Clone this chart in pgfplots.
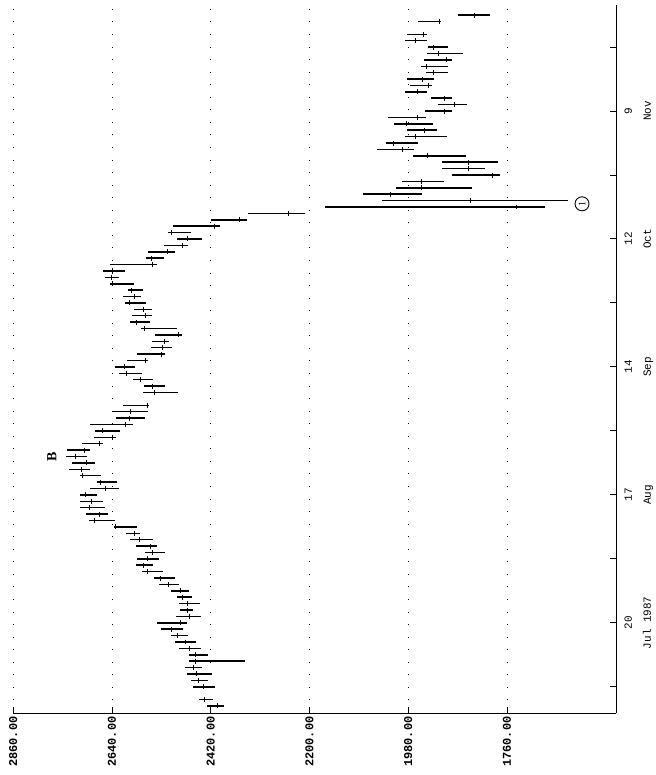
\documentclass[border=0pt]{standalone}
\usepackage{fontspec}
\setmainfont{Liberation Serif}
\setmonofont{Liberation Mono}
\usepackage{pgfplots}
\pgfplotsset{compat=1.18}
\usepackage{pgfplotstable}

\pgfplotstableread{
t h l c
-3 2428 2390 2406
-2 2446 2415 2433
0 2459 2410 2437
1 2464 2426 2448
2 2473 2417 2451
3 2477 2439 2459
4 2468 2344 2455
5 2468 2426 2455
6 2491 2442 2468
7 2500 2453 2477
8 2508 2471 2495
9 2531 2482 2508
10 2540 2473 2488
11 2497 2442 2468
12 2488 2459 2471
13 2491 2444 2471
14 2495 2462 2482
15 2508 2468 2488
16 2535 2491 2515
17 2546 2500 2533
18 2573 2526 2562
19 2586 2549 2571
20 2584 2535 2560
21 2566 2522 2549
22 2586 2540 2555
23 2600 2549 2578
24 2609 2578 2589
25 2636 2584 2632
26 2691 2633 2680
27 2698 2649 2669
28 2711 2656 2691
29 2711 2660 2685
30 2711 2673 2700
31 2689 2624 2654
32 2673 2629 2665
33 2711 2665 2706
34 2736 2689 2709
35 2729 2678 2697
36 2742 2696 2722
37 2740 2689 2701
38 2707 2660 2667
39 2680 2631 2639
40 2678 2622 2662
41 2689 2593 2610
42 2631 2566 2602
43 2638 2560 2599
44 2615 2557 2561
46 2571 2493 2545
47 2569 2522 2549
48 2593 2549 2576
49 2624 2573 2608
50 2633 2589 2613
51 2607 2560 2566
52 2584 2522 2530
53 2553 2506 2527
54 2551 2513 2524
55 2545 2485 2492
56 2575 2495 2568
57 2600 2555 2585
58 2595 2550 2566
59 2590 2550 2570
60 2610 2565 2601
61 2615 2575 2590
62 2605 2570 2596
63 2645 2590 2639
64 2655 2625 2641
65 2660 2610 2640
66 2645 2540 2549
67 2565 2525 2551
68 2560 2500 2516
69 2525 2470 2482
70 2495 2440 2471
71 2515 2465 2508
72 2505 2400 2412
73 2420 2340 2355
74 2337 2210 2246
75 2165 1675 1738
76 2038 1625 1841
77 2081 1949 2020
78 2007 1838 1951
79 1994 1900 1951
80 1882 1775 1793
81 1904 1809 1846
82 1904 1780 1846
83 1969 1851 1938
84 2049 1967 1993
85 2029 1958 2014
86 1987 1893 1963
87 1983 1916 1945
88 2012 1925 1985
89 2025 1940 1959
90 1942 1882 1900
91 1913 1849 1878
92 1929 1882 1899
93 1987 1938 1960
94 1976 1927 1935
95 1983 1922 1949
96 1940 1891 1923
97 1951 1891 1939
98 1945 1882 1895
99 1938 1858 1913
100 1936 1891 1923
101 1987 1938 1963
102 1983 1938 1947
104 1958 1909 1910
105 1869 1798 1833
}\dow

\begin{document}
\begin{tikzpicture}
\begin{axis}[
  scale only axis, width=602.7bp, height=708bp,
  x dir=reverse, xmin=1517, xmax=2860, ymin=-4.1, ymax=106.6,
  axis x line*=bottom, axis y line*=right,
  axis line style={line width=1pt, -},
  tick align=inside, major tick length=6bp,
  tick style={black, line width=1pt},
  xtick={1760,1980,2200,2420,2640,2860},
  xticklabels={1760.00,1980.00,2200.00,2420.00,2640.00,2860.00},
  xticklabel style={rotate=90, anchor=east, font=\ttfamily\bfseries\fontsize{12}{12}\selectfont},
  ytick={0,10,...,100},
  yticklabels={{},{20\\Jul 1987},{},{17\\Aug},{},{14\\Sep},{},{12\\Oct},{},{9\\Nov},{}},
  yticklabel style={rotate=90, anchor=north, align=center, font=\ttfamily\fontsize{11}{19}\selectfont},
  yticklabel shift=5bp,
  xmajorgrids,
  grid style={black, line width=1pt, dash pattern=on 1pt off 11.6pt},
  clip=false,
]
\addplot[black, only marks, mark=|, mark size=2.5pt, mark options={line width=1pt},
  error bars/.cd, x dir=both, x explicit, error mark=none,
  error bar style={line width=1.5pt, black}]
  table[x=c, y=t, x error plus expr=\thisrow{h}-\thisrow{c}, x error minus expr=\thisrow{c}-\thisrow{l}] {\dow};
\node[rotate=90, font=\bfseries\fontsize{14}{14}\selectfont] at (axis cs:2774,36) {B};
\node[draw, circle, line width=0.9pt, minimum size=14bp, inner sep=0pt, rotate=90, font=\fontsize{10}{10}\selectfont] at (axis cs:1593,75.5) {1};
\coordinate (bbSW) at (axis cs:2889.6,-13.79);
\coordinate (bbNE) at (axis cs:1429.8,107.36);
\end{axis}
\pgfresetboundingbox
\path (bbSW) rectangle (bbNE);
\end{tikzpicture}
\end{document}
